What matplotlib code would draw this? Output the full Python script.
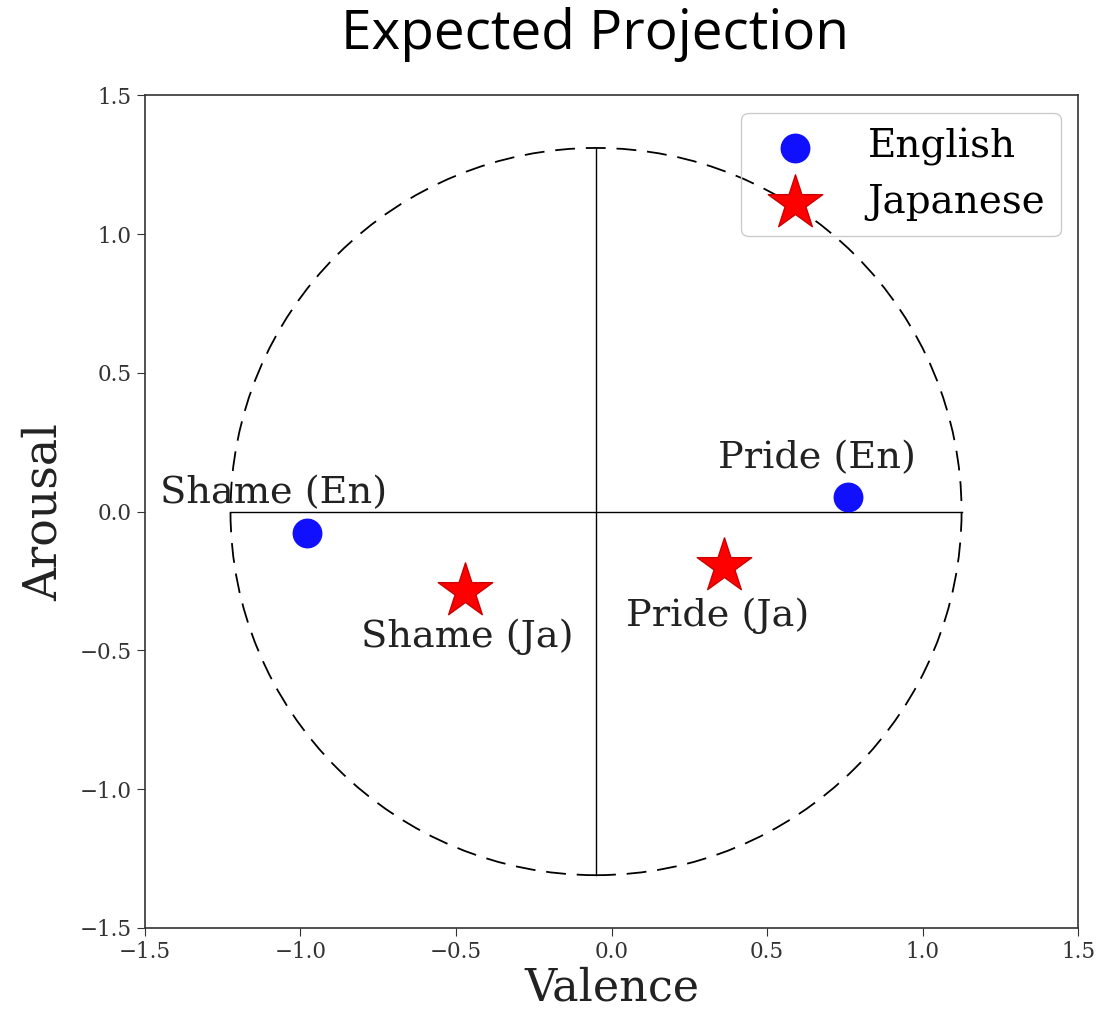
import numpy as np
import matplotlib.pyplot as plt
from matplotlib.patches import Ellipse

# English points
en_x = [-0.98, 0.76]
en_y = [-0.077, 0.052]
en_lab = ['Shame (En)', 'Pride (En)']
en_lab_xy = [(-1.085, 0.067), (0.66, 0.193)]

# Japanese points
ja_x = [-0.47, 0.36]
ja_y = [-0.286, -0.196]
ja_lab = ['Shame (Ja)', 'Pride (Ja)']
ja_lab_xy = [(-0.465, -0.45), (0.34, -0.375)]

centro = (-0.05, 0.0)
radio_x = 1.175
radio_y = 1.31

ticks = [-1.5, -1.0, -0.5, 0.0, 0.5, 1.0, 1.5]

plt.rcParams['font.family'] = 'DejaVu Serif'

fig = plt.figure(figsize=(10.98, 10.13), dpi=100)
ax = fig.add_axes([0.132, 0.084, 0.850, 0.822])

ax.add_patch(Ellipse(centro, 2 * radio_x, 2 * radio_y, fill=False,
                     edgecolor='black', linewidth=1.3, linestyle=(0, (11, 6))))
ax.plot([centro[0] - radio_x, centro[0] + radio_x], [0, 0], color='black', linewidth=1)
ax.plot([centro[0], centro[0]], [-radio_y, radio_y], color='black', linewidth=1)

ax.scatter(en_x, en_y, s=420, color='#1010ff', label='English', zorder=3)
ax.scatter(ja_x, ja_y, s=1700, marker='*', color='#ff0000', edgecolors='#cc0000',
           linewidths=1, label='Japanese', zorder=3)

for t, (tx, ty) in zip(en_lab + ja_lab, en_lab_xy + ja_lab_xy):
    ax.text(tx, ty, t, fontsize=27.5, ha='center', va='center', color='#222222')

ax.set_xlim(-1.5, 1.5)
ax.set_ylim(-1.5, 1.5)
ax.set_xticks(ticks)
ax.set_yticks(ticks)
ax.tick_params(labelsize=15.5, length=6, colors='#333333', labelcolor='#333333')
for s in ax.spines.values():
    s.set_color('#333333')
    s.set_linewidth(1.2)

ax.set_xlabel('Valence', fontsize=32, color='#222222', labelpad=2)
ax.set_ylabel('Arousal', fontsize=33, color='#222222', labelpad=9)

ax.legend(loc='upper right', fontsize=28, handletextpad=0.85, borderpad=0.4,
          labelspacing=0.45, scatterpoints=1, frameon=True, borderaxespad=0.45,
          facecolor='none', edgecolor='#cccccc', framealpha=1)

fig.text(0.542, 0.966, 'Expected Projection', fontsize=39.5, family='Open Sans',
         ha='center', va='center')

plt.savefig('out.png')
